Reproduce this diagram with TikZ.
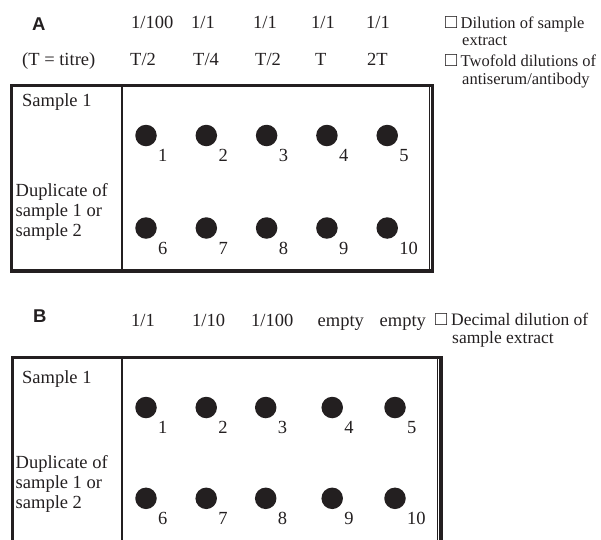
\documentclass[tikz,border=0pt]{standalone}
\usepackage{fontspec}
\setmainfont{Liberation Serif}
\newfontfamily\panelfont{Liberation Sans}
\usetikzlibrary{calc}
\definecolor{ink}{RGB}{35,31,32}
\begin{document}
\begin{tikzpicture}[x=1pt,y=-1pt,
  txt/.style={anchor=base west,inner sep=0pt,text=ink,font=\fontsize{18.5}{20}\selectfont},
  leg/.style={anchor=base west,inner sep=0pt,text=ink,font=\fontsize{16.5}{17.5}\selectfont},
  legb/.style={anchor=base west,inner sep=0pt,text=ink,font=\fontsize{17.5}{17.5}\selectfont},
  tick/.style={anchor=base west,inner sep=0pt,text=ink,font=\fontsize{20}{20}\selectfont},
  panel/.style={anchor=base west,inner sep=0pt,text=ink,font=\panelfont\bfseries\fontsize{18.5}{20}\selectfont},
  well/.style={circle,fill=ink,draw=none,minimum size=21.5pt,inner sep=0pt},
  num/.style={txt},
  frame/.style={draw=ink,line width=3.3pt},
  divider/.style={draw=ink,line width=2pt},
  rim/.style={draw=ink,line width=1pt}]
\useasboundingbox (0,0) rectangle (601,539);

% ---------------- Panel A ----------------
\node[panel] (pA) at (32,30.7) {A};
\node[txt] (hA1) at (131,28.3) {1/100};
\node[txt] (hA2) at (191,28.3) {1/1};
\node[txt] (hA3) at (253,28.3) {1/1};
\node[txt] (hA4) at (311,28.3) {1/1};
\node[txt] (hA5) at (366,28.3) {1/1};
\node[txt] (tA0) at (22,65) {(T = titre)};
\node[txt] (tA1) at (130,65) {T/2};
\node[txt] (tA2) at (193,65) {T/4};
\node[txt] (tA3) at (255,65) {T/2};
\node[txt] (tA4) at (315,65) {T};
\node[txt] (tA5) at (367,65) {2T};
% legend
\node[tick] (sqA1) at (445,28.3) {□};
\node[leg] (lgA1) at (460.5,28.3) {Dilution of sample};
\node[leg] (lgA2) at (462,45.7) {extract};
\node[tick] (sqA2) at (445,66) {□};
\node[leg] (lgA3) at (460.5,66) {Twofold dilutions of};
\node[leg] (lgA4) at (462,84) {antiserum/antibody};

% plate frame
\draw[frame] (11.7,85.5) rectangle (432.5,271);
\draw[rim] (429.3,85.5) -- (429.3,271);
\draw[divider] (121.7,85.5) -- (121.7,271);

\node[txt] (sA1) at (22,106.7) {Sample 1};
\node[txt] (dA1) at (15.5,196.7) {Duplicate of};
\node[txt] (dA2) at (15.5,216.7) {sample 1 or};
\node[txt] (dA3) at (15.5,236.7) {sample 2};

% wells
\foreach \i/\x in {1/146,2/206.3,3/266.6,4/326.9,5/387.2}{
  \node[well] (a\i) at (\x,135.5) {};
  \node[num] (na\i) at ($(a\i.center)+(12,26.2)$) {\i};
}
\foreach \i/\x in {6/146,7/206.3,8/266.6,9/326.9,10/387.2}{
  \node[well] (a\i) at (\x,228) {};
  \node[num] (na\i) at ($(a\i.center)+(12,26.2)$) {\i};
}

% ---------------- Panel B ----------------
\node[panel] (pB) at (33,322.7) {B};
\node[txt] (hB1) at (131,326.7) {1/1};
\node[txt] (hB2) at (192,326.7) {1/10};
\node[txt] (hB3) at (251,326.7) {1/100};
\node[txt] (hB4) at (317.5,326.7) {empty};
\node[txt] (hB5) at (379.5,326.7) {empty};
\node[tick] (sqB1) at (435,325) {□};
\node[legb] (lgB1) at (451,325) {Decimal dilution of};
\node[legb] (lgB2) at (452,343) {sample extract};

% plate frame (runs off the lower edge)
\draw[frame] (12.5,541) -- (12.5,357.5) -- (441,357.5) -- (441,541);
\draw[rim] (437.7,357.5) -- (437.7,541);
\draw[divider] (121.7,357.5) -- (121.7,541);

\node[txt] (sB1) at (22,383.3) {Sample 1};
\node[txt] (dB1) at (15.5,468) {Duplicate of};
\node[txt] (dB2) at (15.5,488) {sample 1 or};
\node[txt] (dB3) at (15.5,508) {sample 2};

\foreach \i/\x in {1/146,2/206.2,3/265.7,4/332.2,5/395}{
  \node[well] (b\i) at (\x,407.5) {};
  \node[num] (nb\i) at ($(b\i.center)+(12,26)$) {\i};
}
\foreach \i/\x in {6/146,7/206.2,8/265.7,9/332.2,10/395}{
  \node[well] (b\i) at (\x,498.3) {};
  \node[num] (nb\i) at ($(b\i.center)+(12,26)$) {\i};
}
\end{tikzpicture}
\end{document}
